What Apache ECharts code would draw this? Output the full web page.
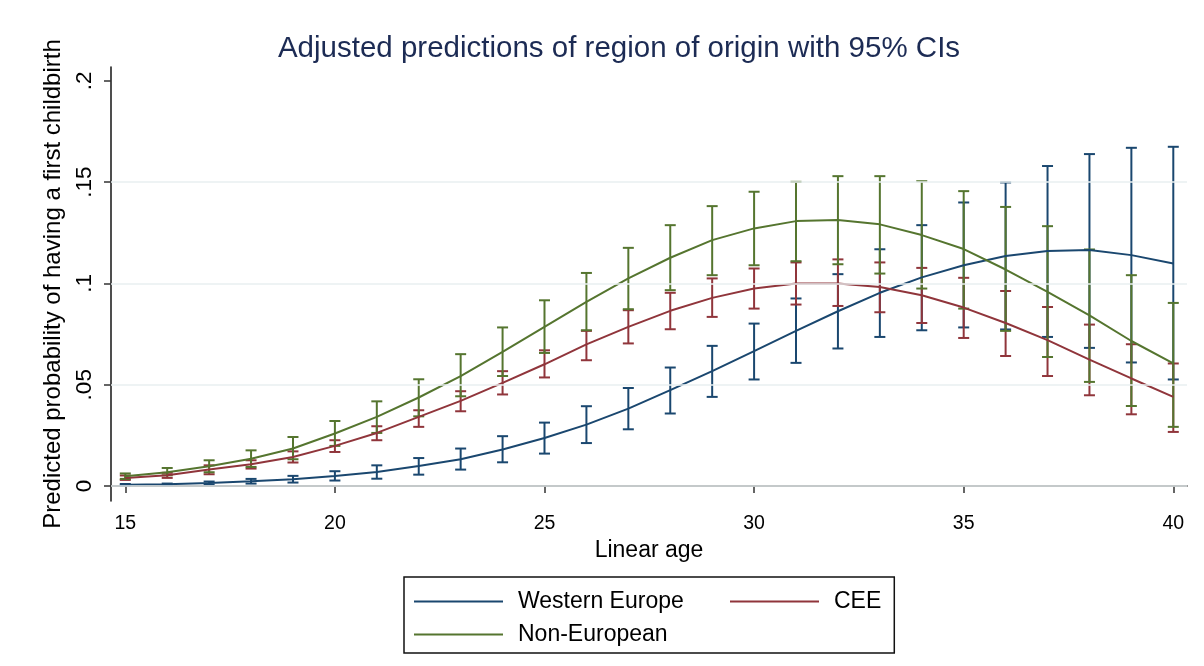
<!DOCTYPE html>
<html>
<head>
<meta charset="utf-8">
<script src="https://cdn.jsdelivr.net/npm/echarts@6/dist/echarts.min.js"></script>
<style>
  html, body { margin: 0; padding: 0; background: #ffffff; }
  #chart { width: 1204px; height: 666px; }
</style>
</head>
<body>
<div id="chart"></div>
<script>
// Ages at which the margins were evaluated
const ages = [15, 16, 17, 18, 19, 20, 21, 22, 23, 24, 25, 26, 27, 28, 29, 30, 31, 32, 33, 34, 35, 36, 37, 38, 39, 40];

// Western Europe: predicted probability and 95% CI
const weMean = [0.0006, 0.0008, 0.0015, 0.0023, 0.0033, 0.0049, 0.0069, 0.0099, 0.0132, 0.0180, 0.0237, 0.0303, 0.0382, 0.0473, 0.0567, 0.0666, 0.0766, 0.0863, 0.0954, 0.1030, 0.1090, 0.1136, 0.1160, 0.1165, 0.1140, 0.1099];
const weLow  = [0.0003, 0.0005, 0.0008, 0.0012, 0.0017, 0.0027, 0.0036, 0.0056, 0.0081, 0.0117, 0.0160, 0.0212, 0.0280, 0.0358, 0.0440, 0.0526, 0.0608, 0.0679, 0.0736, 0.0769, 0.0783, 0.0773, 0.0736, 0.0682, 0.0610, 0.0526];
const weHigh = [0.0010, 0.0012, 0.0022, 0.0035, 0.0050, 0.0073, 0.0102, 0.0138, 0.0185, 0.0246, 0.0313, 0.0394, 0.0484, 0.0585, 0.0692, 0.0802, 0.0926, 0.1046, 0.1169, 0.1288, 0.1400, 0.1499, 0.1580, 0.1639, 0.1670, 0.1675];

// CEE: predicted probability and 95% CI
const ceeMean = [0.0040, 0.0053, 0.0081, 0.0107, 0.0143, 0.0198, 0.0262, 0.0341, 0.0420, 0.0509, 0.0601, 0.0699, 0.0786, 0.0865, 0.0929, 0.0975, 0.1000, 0.1000, 0.0983, 0.0942, 0.0881, 0.0805, 0.0720, 0.0624, 0.0531, 0.0440];
const ceeLow  = [0.0030, 0.0040, 0.0058, 0.0086, 0.0116, 0.0168, 0.0226, 0.0292, 0.0369, 0.0452, 0.0536, 0.0621, 0.0704, 0.0774, 0.0835, 0.0876, 0.0896, 0.0889, 0.0858, 0.0805, 0.0731, 0.0642, 0.0543, 0.0448, 0.0354, 0.0267];
const ceeHigh = [0.0052, 0.0065, 0.0102, 0.0127, 0.0171, 0.0226, 0.0295, 0.0374, 0.0468, 0.0567, 0.0670, 0.0766, 0.0868, 0.0954, 0.1025, 0.1074, 0.1104, 0.1119, 0.1104, 0.1077, 0.1028, 0.0963, 0.0884, 0.0797, 0.0700, 0.0605];

// Non-European: predicted probability and 95% CI
const neMean = [0.0048, 0.0068, 0.0097, 0.0135, 0.0185, 0.0259, 0.0341, 0.0437, 0.0543, 0.0662, 0.0786, 0.0909, 0.1025, 0.1127, 0.1214, 0.1272, 0.1308, 0.1313, 0.1292, 0.1239, 0.1170, 0.1069, 0.0958, 0.0843, 0.0716, 0.0605];
const neLow  = [0.0035, 0.0053, 0.0068, 0.0094, 0.0132, 0.0198, 0.0262, 0.0344, 0.0443, 0.0543, 0.0657, 0.0769, 0.0873, 0.0967, 0.1041, 0.1090, 0.1110, 0.1095, 0.1049, 0.0975, 0.0876, 0.0766, 0.0637, 0.0514, 0.0395, 0.0292];
const neHigh = [0.0062, 0.0089, 0.0127, 0.0176, 0.0242, 0.0321, 0.0418, 0.0527, 0.0651, 0.0783, 0.0917, 0.1052, 0.1176, 0.1288, 0.1382, 0.1453, 0.1502, 0.1530, 0.1530, 0.1505, 0.1456, 0.1378, 0.1283, 0.1168, 0.1041, 0.0904];

// Axis ticks and reference lines
const xTicks = [15, 20, 25, 30, 35, 40];
const yTicks = [0, 0.05, 0.1, 0.15, 0.2];
const gridLevels = [0, 0.05, 0.1, 0.15];

const groupNames = ['Western Europe', 'CEE', 'Non-European'];
const NAVY = '#1a476f', MAROON = '#90353b', GREEN = '#55752f';
const FONT = '"Liberation Sans", Arial, Helvetica, sans-serif';

function capSeries(name, low, high, color) {
  return {
    type: 'custom',
    name: name + ' 95% CI',
    silent: true,
    z: 3,
    data: ages.map((a, i) => [a, low[i], high[i]]),
    encode: { x: 0, y: [1, 2] },
    renderItem: function (params, api) {
      const x = api.value(0);
      const lo = api.coord([x, api.value(1)]);
      const hi = api.coord([x, api.value(2)]);
      const half = 5.5;
      const style = { stroke: color, lineWidth: 2, fill: null };
      return {
        type: 'group',
        children: [
          { type: 'line', shape: { x1: lo[0], y1: lo[1], x2: hi[0], y2: hi[1] }, style: style },
          { type: 'line', shape: { x1: lo[0] - half, y1: lo[1], x2: lo[0] + half, y2: lo[1] }, style: style },
          { type: 'line', shape: { x1: hi[0] - half, y1: hi[1], x2: hi[0] + half, y2: hi[1] }, style: style }
        ]
      };
    }
  };
}

function lineSeries(name, mean, color) {
  return {
    type: 'line',
    name: name,
    data: ages.map((a, i) => [a, mean[i]]),
    symbol: 'none',
    smooth: false,
    z: 4,
    lineStyle: { color: color, width: 2 },
    itemStyle: { color: color }
  };
}

const chart = echarts.init(document.getElementById('chart'), null, { renderer: 'canvas' });

chart.setOption({
  animation: false,
  backgroundColor: '#ffffff',
  textStyle: { fontFamily: FONT },
  title: {
    text: 'Adjusted predictions of region of origin with 95% CIs',
    left: 614,
    textAlign: 'center',
    top: 29,
    textStyle: { fontFamily: FONT, fontSize: 29.5, fontWeight: 'normal', color: '#1c2b54' }
  },
  grid: { left: 111, right: 17, top: 67, bottom: 165 },
  xAxis: {
    type: 'value',
    min: 14.659,
    max: 40.327,
    name: 'Linear age',
    nameLocation: 'middle',
    nameGap: 38,
    nameTextStyle: { fontFamily: FONT, fontSize: 23, color: '#000' },
    axisLine: { show: true, lineStyle: { color: '#222', width: 1.6 } },
    axisTick: { show: true, customValues: xTicks, length: 7, lineStyle: { color: '#333', width: 1.5 } },
    axisLabel: { customValues: xTicks, margin: 13, fontSize: 19.5, color: '#000', fontFamily: FONT },
    splitLine: { show: false }
  },
  yAxis: {
    type: 'value',
    min: -0.00741,
    max: 0.2069,
    name: 'Predicted probability of having a first childbirth',
    nameLocation: 'middle',
    nameRotate: 90,
    nameGap: 41,
    nameTextStyle: { fontFamily: FONT, fontSize: 24, color: '#000' },
    axisLine: { show: true, lineStyle: { color: '#222', width: 1.6 } },
    axisTick: { show: true, customValues: yTicks, length: 7, lineStyle: { color: '#333', width: 1.5 } },
    axisLabel: {
      customValues: yTicks,
      rotate: 90,
      margin: 15,
      fontSize: 22.5,
      color: '#000',
      fontFamily: FONT,
      formatter: function (v) { return v === 0 ? '0' : String(+v.toFixed(4)).replace(/^0/, ''); }
    },
    splitLine: { show: false }
  },
  legend: {
    data: groupNames,
    orient: 'horizontal',
    left: 404,
    top: 577,
    width: 470,
    padding: [13, 13, 7, 10],
    icon: 'rect',
    itemWidth: 89,
    itemHeight: 2,
    itemGap: 10,
    borderColor: '#111',
    borderWidth: 1.5,
    borderRadius: 0,
    backgroundColor: '#ffffff',
    selectedMode: false,
    formatter: function (name) {
      return name === groupNames[0] ? '{wide|' + name + '}' : '{std|' + name + '}';
    },
    textStyle: {
      fontFamily: FONT, fontSize: 23, color: '#000', lineHeight: 23,
      padding: [0, 0, 0, 10],
      rich: {
        wide: { width: 202, fontFamily: FONT, fontSize: 23, lineHeight: 23, color: '#000' },
        std: { fontFamily: FONT, fontSize: 23, lineHeight: 23, color: '#000' }
      }
    }
  },
  series: [
    {
      type: 'line',
      name: 'grid',
      data: [],
      z: 1,
      silent: true,
      markLine: {
        silent: true,
        symbol: ['none', 'none'],
        label: { show: false },
        lineStyle: { color: '#e8eff1', width: 1.6, type: 'solid' },
        data: gridLevels.map(v => ({ yAxis: v }))
      }
    },
    capSeries(groupNames[0], weLow, weHigh, NAVY),
    capSeries(groupNames[1], ceeLow, ceeHigh, MAROON),
    capSeries(groupNames[2], neLow, neHigh, GREEN),
    lineSeries(groupNames[0], weMean, NAVY),
    lineSeries(groupNames[1], ceeMean, MAROON),
    lineSeries(groupNames[2], neMean, GREEN)
  ]
});
</script>
</body>
</html>
